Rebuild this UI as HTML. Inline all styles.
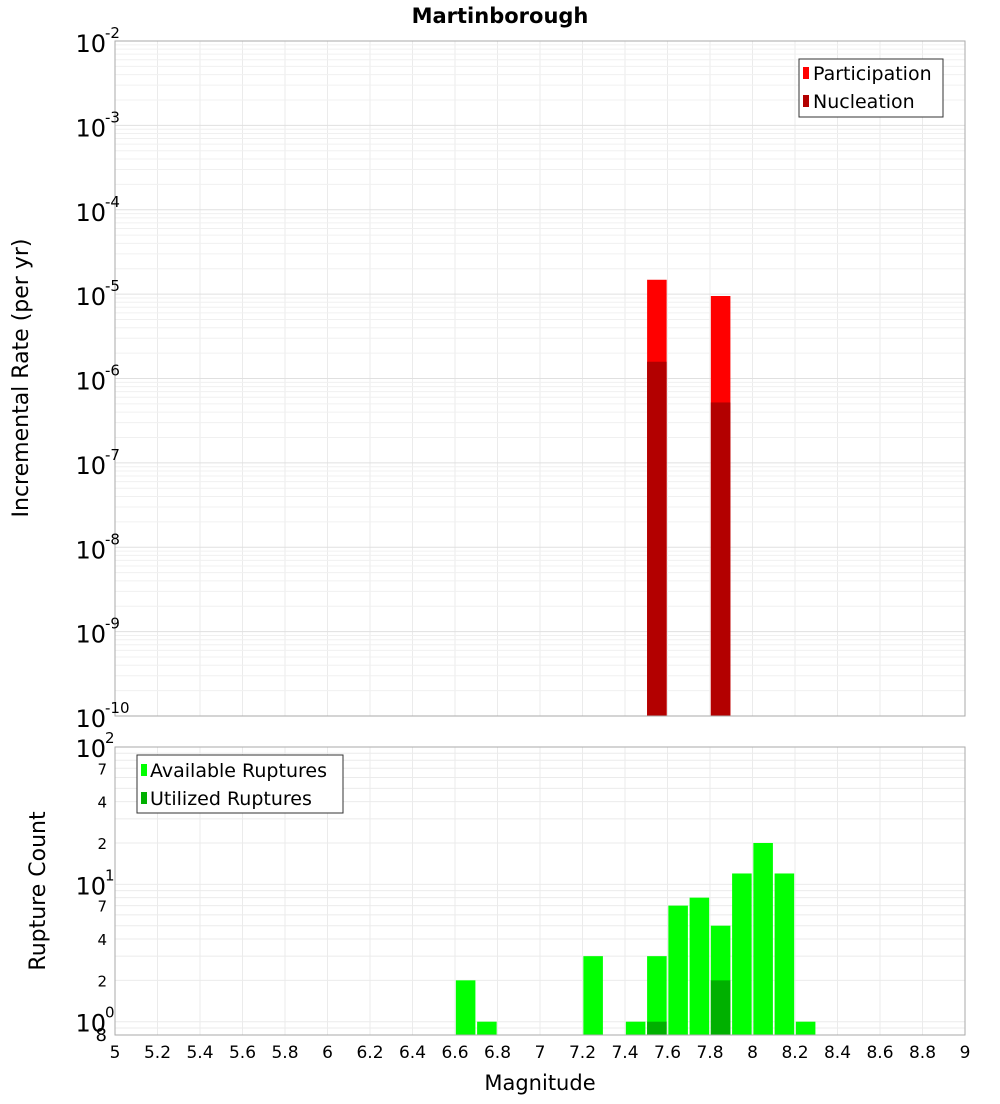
<!DOCTYPE html>
<html><head><meta charset="utf-8"><style>
body{margin:0;background:#fff;font-family:"DejaVu Sans","Liberation Sans",sans-serif}
svg text{font-family:"DejaVu Sans","Liberation Sans",sans-serif}
</style></head><body>
<svg id="chart" width="1000" height="1100" xmlns="http://www.w3.org/2000/svg">
<text x="500" y="23" text-anchor="middle" font-size="21" font-weight="bold">Martinborough</text>
<g id="gtop"></g><g id="gbot"></g>
<text transform="translate(28,378) rotate(-90)" text-anchor="middle" font-size="22">Incremental Rate (per yr)</text>
<text transform="translate(45,891) rotate(-90)" text-anchor="middle" font-size="22">Rupture Count</text>
<text x="540" y="1090" text-anchor="middle" font-size="21">Magnitude</text>
<g>
<rect x="799" y="59" width="144" height="58" fill="#fff" stroke="#333"/>
<rect x="803" y="67" width="6" height="12" fill="#ff0000"/><text x="813" y="80" font-size="19">Participation</text>
<rect x="803" y="95" width="6" height="12" fill="#b30000"/><text x="813" y="108" font-size="19">Nucleation</text>
</g>
<g>
<rect x="137" y="755" width="206" height="58" fill="#fff" stroke="#333"/>
<rect x="141" y="764" width="6" height="12" fill="#00ff00"/><text x="150" y="777" font-size="19">Available Ruptures</text>
<rect x="141" y="792" width="6" height="12" fill="#00b000"/><text x="150" y="805" font-size="19">Utilized Ruptures</text>
</g>
</svg>
<script>
const partMags=[7.55,7.85];
const partVals=[1.48e-5,9.5e-6];
const nuclMags=[7.55,7.85];
const nuclVals=[1.58e-6,5.2e-7];
const availMags=[6.65,6.75,7.25,7.45,7.55,7.65,7.75,7.85,7.95,8.05,8.15,8.25];
const availVals=[2,1,3,1,3,7,8,5,12,20,12,1];
const utilMags=[7.55,7.85];
const utilVals=[1,2];
const xTicks=[5,5.2,5.4,5.6,5.8,6,6.2,6.4,6.6,6.8,7,7.2,7.4,7.6,7.8,8,8.2,8.4,8.6,8.8,9];
const topDecades=[-2,-3,-4,-5,-6,-7,-8,-9,-10];
const botDecades=[2,1,0];
const botMinorLabels=[2,4,7];

const NS='http://www.w3.org/2000/svg';
const X0=115,X1=965;
const xs=m=>X0+(m-5)/4*(X1-X0);
const T0=41,T1=716;
const yTop=v=>T0+(-2-Math.log10(v))/8*(T1-T0);
const B0=747,B1=1035,BMIN=0.8,BMAX=100;
const yBot=v=>B0+(Math.log10(BMAX)-Math.log10(v))/(Math.log10(BMAX)-Math.log10(BMIN))*(B1-B0);
function mk(parent,tag,attrs,text){const e=document.createElementNS(NS,tag);for(const k in attrs)e.setAttribute(k,attrs[k]);if(text!==undefined)e.textContent=text;parent.appendChild(e);return e;}
const gTop=document.getElementById('gtop'),gBot=document.getElementById('gbot');

function plot(g,yA,yB,name){
  const bg=mk(g,'rect',{x:X0,y:yA,width:X1-X0,height:yB-yA,fill:'#fff'});
  
  
  xTicks.forEach(t=>{const l=mk(g,'line',{x1:xs(t),x2:xs(t),y1:yA,y2:yB,stroke:'#ebebeb'});
    
    });
}
plot(gTop,T0,T1,'top');
plot(gBot,B0,B1,'bottom');
for(let d=-10;d<-2;d++){for(let k=1;k<10;k++){const v=k*Math.pow(10,d);const yy=yTop(v);
  const l=mk(gTop,'line',{x1:X0,x2:X1,y1:yy,y2:yy,stroke:k==1?'#e0e0e0':'#f0f0f0'});
  
  }}
for(let d=-1;d<2;d++){for(let k=1;k<10;k++){const v=k*Math.pow(10,d);if(v<BMIN)continue;const yy=yBot(v);
  const l=mk(gBot,'line',{x1:X0,x2:X1,y1:yy,y2:yy,stroke:'#ebebeb'});
  
  }}
const bw=0.092;
function bars(g,mags,vals,yf,base,color,name){
  mags.forEach((m,i)=>{const yy=yf(vals[i]);
    const r=mk(g,'rect',{x:xs(m-bw/2),y:yy,width:xs(m+bw/2)-xs(m-bw/2),height:base-yy,fill:color});
    
    });
}
bars(gTop,partMags,partVals,yTop,T1,'#ff0000','participation-bar');
bars(gTop,nuclMags,nuclVals,yTop,T1,'#b30000','nucleation-bar');
bars(gBot,availMags,availVals,yBot,B1,'#00ff00','available-ruptures-bar');
bars(gBot,utilMags,utilVals,yBot,B1,'#00b000','utilized-ruptures-bar');
[[gTop,T0,T1,'top'],[gBot,B0,B1,'bottom']].forEach(([g,a,b,n])=>{const f=mk(g,'rect',{x:X0,y:a,width:X1-X0,height:b-a,fill:'none',stroke:'#aaa'});
  
  });
topDecades.forEach(d=>{const yy=yTop(Math.pow(10,d));
  const t=mk(gTop,'text',{x:106,y:yy+11,'text-anchor':'end','font-size':24},'10');
  
  
  const s=mk(gTop,'text',{x:105,y:yy-3,'font-size':15},String(d));
  
  });
botDecades.forEach(d=>{const yy=yBot(Math.pow(10,d));
  const t=mk(gBot,'text',{x:106,y:yy+10,'text-anchor':'end','font-size':24},'10');
  
  
  const s=mk(gBot,'text',{x:105,y:yy-4,'font-size':15},String(d));
  
  });
[0,1].forEach(d=>botMinorLabels.forEach(k=>{const yy=yBot(k*Math.pow(10,d));
  const t=mk(gBot,'text',{x:107,y:yy+6,'text-anchor':'end','font-size':15},String(k));
  
  }));
{const t=mk(gBot,'text',{x:107,y:1041,'text-anchor':'end','font-size':18},'8');
  
  }
xTicks.forEach(t=>{const e=mk(gBot,'text',{x:xs(t),y:1058,'text-anchor':'middle','font-size':17},String(t));
  
  });
</script>
</body></html>
